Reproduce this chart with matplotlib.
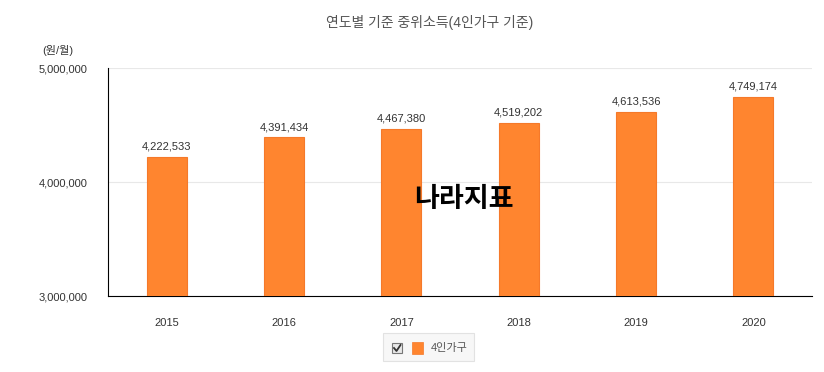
import matplotlib.pyplot as plt
from matplotlib.patches import Rectangle
from matplotlib.lines import Line2D

plt.rcParams['font.family'] = ['Liberation Sans', 'Noto Sans CJK KR', 'DejaVu Sans']

years = ["2015", "2016", "2017", "2018", "2019", "2020"]
income = [4222533, 4391434, 4467380, 4519202, 4613536, 4749174]
yticks = [3000000, 4000000, 5000000]

BAR = "#FF852F"
EDGE = "#F5792A"
TXT = "#333333"

fig = plt.figure(figsize=(8.24, 3.72), dpi=100)
ax = fig.add_axes([108/824, 1-296/372, 704/824, 228/372])

x = range(len(years))
bars = ax.bar(x, income, width=0.34, color=BAR, edgecolor=EDGE, linewidth=0.8, zorder=3)
for xi, v in zip(x, income):
    ax.text(xi, v + 45000, f"{v:,}", ha="center", va="bottom", fontsize=8, color=TXT)

ax.set_ylim(3000000, 5000000)
ax.set_xlim(-0.5, len(years) - 0.5)
ax.set_yticks(yticks)
ax.set_yticklabels([f"{t:,}" for t in yticks], fontsize=8, color=TXT)
ax.set_xticks(list(x))
ax.set_xticklabels(years, fontsize=8, color=TXT)
ax.tick_params(axis="y", length=0, pad=15)
ax.tick_params(axis="x", length=0, pad=16)
ax.grid(axis="y", color="#e8e8e8", linewidth=0.8, zorder=0)
for s in ("top", "right"):
    ax.spines[s].set_visible(False)
ax.spines["left"].set_color("black")
ax.spines["bottom"].set_color("black")

fig.text(430/824, 1-22/372, "연도별 기준 중위소득(4인가구 기준)", ha="center", va="center",
         fontsize=10, color="#555555")
fig.text(42/824, 1-50/372, "(원/월)", ha="left", va="center", fontsize=8, color=TXT)

# watermark
ax.text(2.53, 3842000, "나라지표", ha="center", va="center", fontsize=19.5,
        fontweight="bold", color="black", zorder=5)

# legend box with checkbox
fig.patches.append(Rectangle((383/824, 1-361/372), 91/824, 28/372, transform=fig.transFigure,
                             facecolor="#f7f7f7", edgecolor="#e2e2e2", linewidth=0.8))
fig.patches.append(Rectangle((392/824, 1-353/372), 10/824, 10/372, transform=fig.transFigure,
                             facecolor="#e8e8e8", edgecolor="#777777", linewidth=0.8))
fig.lines.append(Line2D([394/824, 396.5/824, 400.5/824], [1-348/372, 1-351/372, 1-345/372],
                        transform=fig.transFigure, color="#333333", linewidth=1.3))
fig.patches.append(Rectangle((412/824, 1-354/372), 11/824, 12/372, transform=fig.transFigure,
                             facecolor=BAR, edgecolor=EDGE, linewidth=0.5))
fig.text(431/824, 1-348/372, "4인가구", ha="left", va="center", fontsize=8, color="#555555")

fig.savefig("out.png", dpi=100)
